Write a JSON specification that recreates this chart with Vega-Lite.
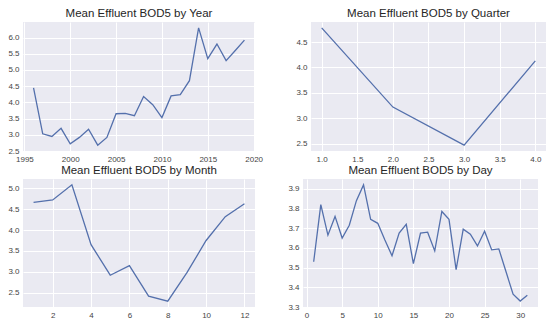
{
  "$schema": "https://vega.github.io/schema/vega-lite/v6.json",
  "padding": {"left": 7, "top": 7, "right": 8, "bottom": 5},
  "background": "white",
  "datasets": {
    "year": [
      {"x": 1996, "y": 4.45}, {"x": 1997, "y": 3.03}, {"x": 1998, "y": 2.95}, {"x": 1999, "y": 3.2},
      {"x": 2000, "y": 2.72}, {"x": 2001, "y": 2.92}, {"x": 2002, "y": 3.17}, {"x": 2003, "y": 2.68},
      {"x": 2004, "y": 2.92}, {"x": 2005, "y": 3.65}, {"x": 2006, "y": 3.66}, {"x": 2007, "y": 3.59},
      {"x": 2008, "y": 4.18}, {"x": 2009, "y": 3.93}, {"x": 2010, "y": 3.53}, {"x": 2011, "y": 4.2},
      {"x": 2012, "y": 4.24}, {"x": 2013, "y": 4.67}, {"x": 2014, "y": 6.3}, {"x": 2015, "y": 5.35},
      {"x": 2016, "y": 5.8}, {"x": 2017, "y": 5.29}, {"x": 2018, "y": 5.6}, {"x": 2019, "y": 5.92}
    ],
    "quarter": [
      {"x": 1, "y": 4.78}, {"x": 2, "y": 3.22}, {"x": 3, "y": 2.47}, {"x": 4, "y": 4.13}
    ],
    "month": [
      {"x": 1, "y": 4.66}, {"x": 2, "y": 4.72}, {"x": 3, "y": 5.08}, {"x": 4, "y": 3.65},
      {"x": 5, "y": 2.92}, {"x": 6, "y": 3.15}, {"x": 7, "y": 2.42}, {"x": 8, "y": 2.3},
      {"x": 9, "y": 2.98}, {"x": 10, "y": 3.75}, {"x": 11, "y": 4.32}, {"x": 12, "y": 4.63}
    ],
    "day": [
      {"x": 1, "y": 3.53}, {"x": 2, "y": 3.82}, {"x": 3, "y": 3.665}, {"x": 4, "y": 3.76},
      {"x": 5, "y": 3.65}, {"x": 6, "y": 3.715}, {"x": 7, "y": 3.84}, {"x": 8, "y": 3.92},
      {"x": 9, "y": 3.745}, {"x": 10, "y": 3.725}, {"x": 11, "y": 3.64}, {"x": 12, "y": 3.56},
      {"x": 13, "y": 3.675}, {"x": 14, "y": 3.72}, {"x": 15, "y": 3.52}, {"x": 16, "y": 3.675},
      {"x": 17, "y": 3.68}, {"x": 18, "y": 3.585}, {"x": 19, "y": 3.785}, {"x": 20, "y": 3.745},
      {"x": 21, "y": 3.49}, {"x": 22, "y": 3.695}, {"x": 23, "y": 3.67}, {"x": 24, "y": 3.61},
      {"x": 25, "y": 3.685}, {"x": 26, "y": 3.59}, {"x": 27, "y": 3.595}, {"x": 28, "y": 3.48},
      {"x": 29, "y": 3.365}, {"x": 30, "y": 3.33}, {"x": 31, "y": 3.36}
    ]
  },
  "vconcat": [
    {
      "hconcat": [
        {
          "title": "Mean Effluent BOD5 by Year",
          "width": 232, "height": 129,
          "data": {"name": "year"},
          "mark": {"type": "line"},
          "encoding": {
            "x": {"field": "x", "type": "quantitative", "title": null,
                  "scale": {"domain": [1994.85, 2020.15], "nice": false, "zero": false},
                  "axis": {"values": [1995, 2000, 2005, 2010, 2015, 2020], "format": "d"}},
            "y": {"field": "y", "type": "quantitative", "title": null,
                  "scale": {"domain": [2.5, 6.48], "nice": false, "zero": false},
                  "axis": {"values": [2.5, 3.0, 3.5, 4.0, 4.5, 5.0, 5.5, 6.0], "format": ".1f"}}
          }
        },
        {
          "title": "Mean Effluent BOD5 by Quarter",
          "width": 235, "height": 129,
          "data": {"name": "quarter"},
          "mark": {"type": "line"},
          "encoding": {
            "x": {"field": "x", "type": "quantitative", "title": null,
                  "scale": {"domain": [0.85, 4.15], "nice": false, "zero": false},
                  "axis": {"values": [1.0, 1.5, 2.0, 2.5, 3.0, 3.5, 4.0], "format": ".1f"}},
            "y": {"field": "y", "type": "quantitative", "title": null,
                  "scale": {"domain": [2.355, 4.895], "nice": false, "zero": false},
                  "axis": {"values": [2.5, 3.0, 3.5, 4.0, 4.5], "format": ".1f"}}
          }
        }
      ]
    },
    {
      "hconcat": [
        {
          "title": "Mean Effluent BOD5 by Month",
          "width": 232, "height": 128,
          "data": {"name": "month"},
          "mark": {"type": "line"},
          "encoding": {
            "x": {"field": "x", "type": "quantitative", "title": null,
                  "scale": {"domain": [0.45, 12.55], "nice": false, "zero": false},
                  "axis": {"values": [2, 4, 6, 8, 10, 12], "format": "d"}},
            "y": {"field": "y", "type": "quantitative", "title": null,
                  "scale": {"domain": [2.16, 5.22], "nice": false, "zero": false},
                  "axis": {"values": [2.5, 3.0, 3.5, 4.0, 4.5, 5.0], "format": ".1f"}}
          }
        },
        {
          "title": "Mean Effluent BOD5 by Day",
          "width": 235, "height": 128,
          "data": {"name": "day"},
          "mark": {"type": "line"},
          "encoding": {
            "x": {"field": "x", "type": "quantitative", "title": null,
                  "scale": {"domain": [-0.5, 32.5], "nice": false, "zero": false},
                  "axis": {"values": [0, 5, 10, 15, 20, 25, 30], "format": "d"}},
            "y": {"field": "y", "type": "quantitative", "title": null,
                  "scale": {"domain": [3.3, 3.95], "nice": false, "zero": false},
                  "axis": {"values": [3.3, 3.4, 3.5, 3.6, 3.7, 3.8, 3.9], "format": ".1f"}}
          }
        }
      ]
    }
  ],
  "spacing": 1,
  "config": {
    "concat": {"spacing": 32},
    "font": "Liberation Sans",
    "view": {"fill": "#EAEAF2", "stroke": null},
    "line": {"color": "#5470AC", "strokeWidth": 1.3},
    "axis": {
      "domain": false, "ticks": false, "grid": true, "gridColor": "#FFFFFF", "gridWidth": 1,
      "labelColor": "#444444", "labelFontSize": 8, "labelPadding": 4, "labelFont": "Liberation Sans"
    },
    "title": {"fontSize": 11.5, "fontWeight": "normal", "color": "#262626", "offset": 3, "font": "Liberation Sans"}
  }
}
